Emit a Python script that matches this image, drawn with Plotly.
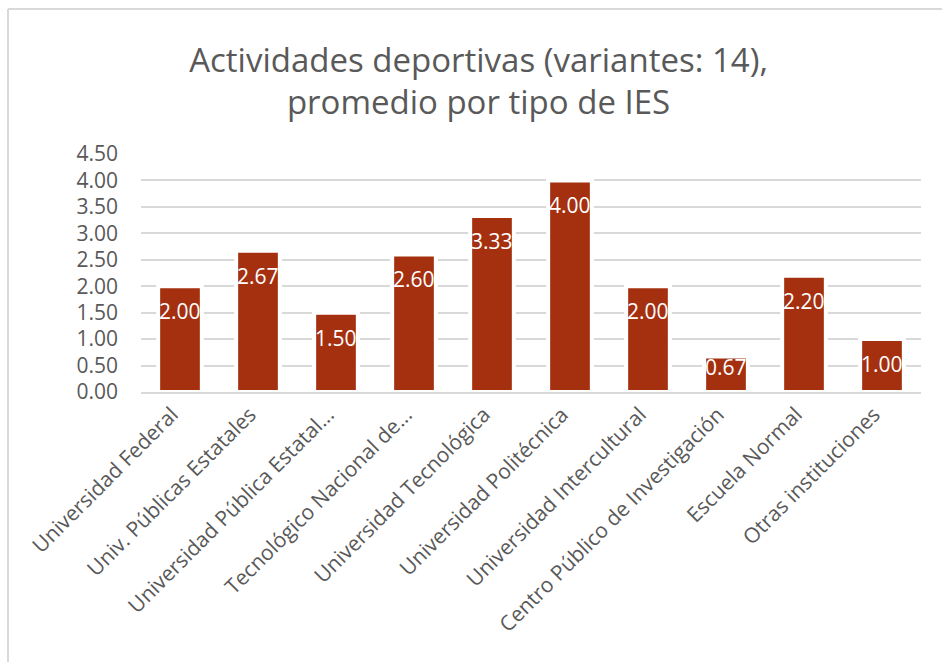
import plotly.graph_objects as go

# Promedio de actividades deportivas por tipo de IES
categorias = [
    "Universidad Federal",
    "Univ. Públicas Estatales",
    "Universidad Pública Estatal...",
    "Tecnológico Nacional de...",
    "Universidad Tecnológica",
    "Universidad Politécnica",
    "Universidad Intercultural",
    "Centro Público de Investigación",
    "Escuela Normal",
    "Otras instituciones",
]
promedios = [2.00, 2.67, 1.50, 2.60, 3.33, 4.00, 2.00, 0.67, 2.20, 1.00]
y_ticks = [0.0, 0.5, 1.0, 1.5, 2.0, 2.5, 3.0, 3.5, 4.0, 4.5]

W, H = 942, 662
M_L, M_R, M_T, M_B = 141, 21, 154, 270
Y_MAX = 4.5
FONT = "'Open Sans', sans-serif"
GRIS = "#595959"
LINEA = "#d9d9d9"
BARRA = "#A5300F"

plot_w = W - M_L - M_R
plot_h = H - M_T - M_B
px_unidad = plot_h / Y_MAX

fig = go.Figure(
    go.Bar(
        x=categorias,
        y=promedios,
        marker=dict(color=BARRA, line=dict(color="white", width=4)),
        hoverinfo="x+y",
    )
)

# Etiquetas de valor dentro de cada barra, cerca del extremo superior
for cat, v in zip(categorias, promedios):
    alto = v * px_unidad
    desplazamiento = min(25, max(alto - 25, 0))
    fig.add_annotation(
        x=cat,
        y=v,
        yshift=-desplazamiento,
        text=f"{v:.2f}",
        showarrow=False,
        font=dict(family=FONT, size=21, color="white"),
        xanchor="center",
        yanchor="middle",
    )

# Marco del área del gráfico (bordes superior e izquierdo)
def px_a_x(px):
    return (px - M_L) / plot_w

def py_a_y(py):
    return (H - M_B - py) / plot_h

borde_x = px_a_x(8)
borde_y = py_a_y(9)
fig.add_shape(type="line", xref="paper", yref="paper",
              x0=borde_x, x1=px_a_x(W + 10), y0=borde_y, y1=borde_y,
              line=dict(color=LINEA, width=2))
fig.add_shape(type="line", xref="paper", yref="paper",
              x0=borde_x, x1=borde_x, y0=borde_y, y1=py_a_y(H + 10),
              line=dict(color=LINEA, width=2))

fig.update_layout(
    width=W,
    height=H,
    margin=dict(l=M_L, r=M_R, t=M_T, b=M_B, pad=0),
    paper_bgcolor="white",
    plot_bgcolor="white",
    bargap=0.44,
    showlegend=False,
    font=dict(family=FONT, color=GRIS),
    title=dict(
        text="Actividades deportivas (variantes: 14),<br>promedio por tipo de IES",
        x=0.508,
        xanchor="center",
        y=1 - 71.5 / H,
        yanchor="middle",
        font=dict(family=FONT, size=33, color=GRIS),
    ),
    xaxis=dict(
        tickangle=-45,
        tickfont=dict(family=FONT, size=21, color=GRIS),
        ticklabelshift=-8,
        showgrid=False,
        showline=True,
        linecolor=LINEA,
        linewidth=2,
        ticks="",
        fixedrange=True,
    ),
    yaxis=dict(
        range=[0, Y_MAX],
        tickvals=y_ticks,
        ticktext=[f"{t:.2f}" for t in y_ticks],
        tickfont=dict(family=FONT, size=21, color=GRIS),
        showgrid=True,
        gridcolor=LINEA,
        gridwidth=2,
        zeroline=False,
        ticks="",
        ticklabelstandoff=22,
        fixedrange=True,
    ),
)

fig.write_html("out.html")
